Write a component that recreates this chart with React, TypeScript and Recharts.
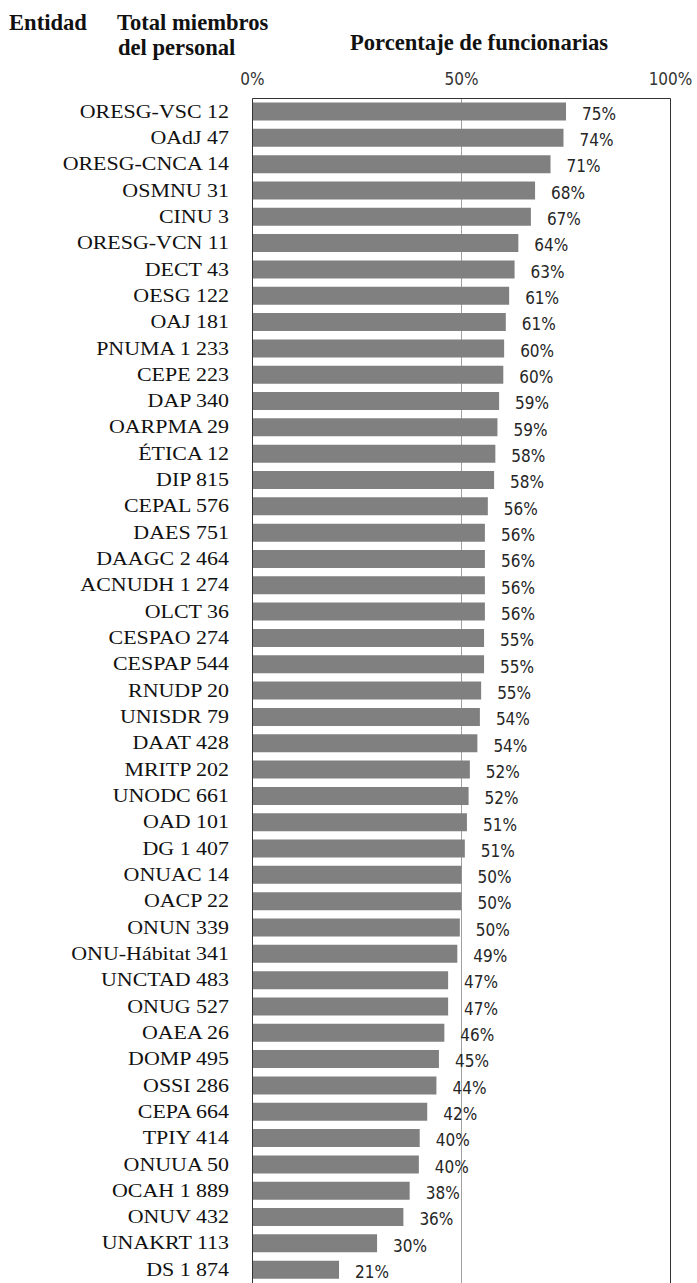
import { BarChart, Bar, XAxis, YAxis, CartesianGrid, ReferenceLine, LabelList } from 'recharts'

const entities = [
  'ORESG-VSC', 'OAdJ', 'ORESG-CNCA', 'OSMNU', 'CINU', 'ORESG-VCN', 'DECT', 'OESG', 'OAJ',
  'PNUMA', 'CEPE', 'DAP', 'OARPMA', 'ÉTICA', 'DIP', 'CEPAL', 'DAES', 'DAAGC', 'ACNUDH',
  'OLCT', 'CESPAO', 'CESPAP', 'RNUDP', 'UNISDR', 'DAAT', 'MRITP', 'UNODC', 'OAD', 'DG',
  'ONUAC', 'OACP', 'ONUN', 'ONU-Hábitat', 'UNCTAD', 'ONUG', 'OAEA', 'DOMP', 'OSSI', 'CEPA',
  'TPIY', 'ONUUA', 'OCAH', 'ONUV', 'UNAKRT', 'DS',
]

const staff = [
  12, 47, 14, 31, 3, 11, 43, 122, 181,
  1233, 223, 340, 29, 12, 815, 576, 751, 2464, 1274,
  36, 274, 544, 20, 79, 428, 202, 661, 101, 1407,
  14, 22, 339, 341, 483, 527, 26, 495, 286, 664,
  414, 50, 1889, 432, 113, 1874,
]

const pctWomen = [
  75.0, 74.4, 71.3, 67.6, 66.6, 63.6, 62.7, 61.4, 60.6,
  60.2, 60.0, 59.0, 58.6, 58.1, 57.8, 56.3, 55.6, 55.6, 55.6,
  55.6, 55.4, 55.4, 54.7, 54.4, 53.8, 52.0, 51.7, 51.3, 50.8,
  50.0, 50.0, 49.6, 49.0, 46.8, 46.8, 45.9, 44.6, 44.0, 41.8,
  40.0, 39.8, 37.6, 36.1, 29.8, 20.7,
]

const xTicks = [0, 50, 100]

const SERIF = "'Liberation Serif', 'Times New Roman', serif"
const NUM_FONT = "'DejaVu Sans Condensed', 'Liberation Sans Narrow', 'DejaVu Sans', sans-serif"

function groupDigits(n: number) {
  return String(n).replace(/\B(?=(\d{3})+(?!\d))/g, ' ')
}

const rows = entities.map((name, i) => ({
  label: `${name} ${groupDigits(staff[i])}`,
  pct: pctWomen[i],
}))

function RowTick(props: any) {
  const { x, y, payload } = props
  return (
    <g transform={`translate(${x},${y}) scale(1.18,1)`}>
      <text x={0} y={0} dy="0.32em" textAnchor="end" fontFamily={SERIF} fontSize={18.6} fill="#111">
        {payload.value}
      </text>
    </g>
  )
}

function PctTick(props: any) {
  const { x, y, payload } = props
  return (
    <text x={x} y={y} textAnchor="middle" fontFamily={NUM_FONT} fontStretch="condensed" fontSize={17} fill="#333">
      {payload.value}%
    </text>
  )
}

function PctLabel(props: any) {
  const { x, y, width, height, value } = props
  return (
    <text
      x={x + width + 16}
      y={y + height / 2 + 8.3}
      fontFamily={NUM_FONT}
      fontStretch="condensed"
      fontSize={17}
      fill="#262626"
    >
      {Math.round(value)}%
    </text>
  )
}

export default function App() {
  return (
    <div style={{ position: 'absolute', left: 0, top: 0, width: 697, height: 1283, overflow: 'hidden', background: '#fff' }}>
      <BarChart
        width={697}
        height={1283}
        data={rows}
        layout="vertical"
        margin={{ top: 68.5, right: 26.5, bottom: 0, left: 0 }}
        barSize={18}
      >
        <CartesianGrid horizontal={false} stroke="#a0a0a0" />
        <XAxis
          type="number"
          orientation="top"
          domain={[0, 100]}
          ticks={xTicks}
          height={30}
          tickLine={false}
          tickSize={0}
          tickMargin={13.5}
          axisLine={{ stroke: '#333' }}
          tick={(p: any) => <PctTick {...p} />}
        />
        <YAxis
          type="category"
          dataKey="label"
          width={252.5}
          interval={0}
          tickLine={false}
          tickSize={0}
          tickMargin={23.5}
          axisLine={{ stroke: '#333' }}
          tick={(p: any) => <RowTick {...p} />}
        />
        <ReferenceLine x={100} stroke="#333" />
        <Bar dataKey="pct" fill="#808080" isAnimationActive={false}>
          <LabelList dataKey="pct" content={(p: any) => <PctLabel {...p} />} />
        </Bar>
      </BarChart>
      <svg width={697} height={70} style={{ position: 'absolute', left: 0, top: 0, pointerEvents: 'none' }}>
        <g fontFamily={SERIF} fontWeight="bold" fontSize={22.6} fill="#111">
          <text x={9} y={30}>Entidad</text>
          <text x={117} y={30}>Total miembros</text>
          <text x={118} y={55}>del personal</text>
          <text x={350} y={50}>Porcentaje de funcionarias</text>
        </g>
      </svg>
    </div>
  )
}
